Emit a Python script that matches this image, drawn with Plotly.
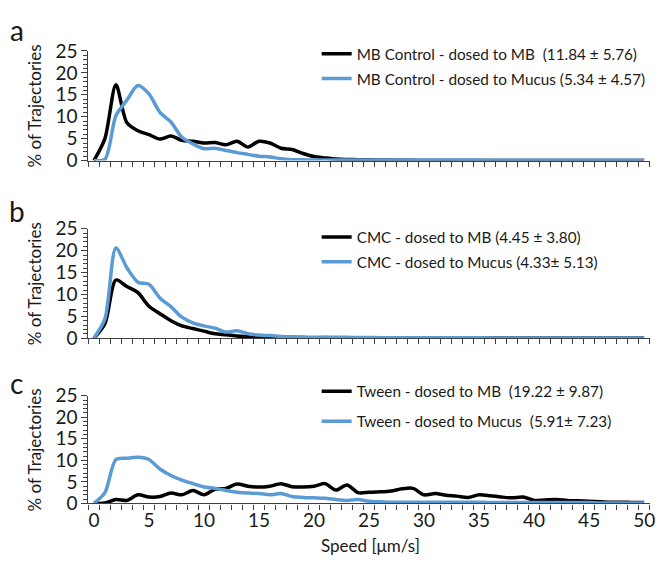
import plotly.graph_objects as go

speed = list(range(0, 51))

a_mb = [0, 5.0, 17.3, 8.6, 6.8, 5.9, 4.9, 5.6, 4.6, 4.4, 4.0, 4.1, 3.6, 4.4, 3.1, 4.4, 4.0, 2.8, 2.5, 1.6,
        0.9, 0.6, 0.35, 0.25, 0.2, 0.15, 0.1, 0.1, 0.05, 0.05, 0, 0, 0, 0, 0, 0, 0, 0, 0, 0,
        0, 0, 0, 0, 0, 0, 0, 0, 0, 0, 0]
a_mucus = [0, 0.3, 10.2, 13.8, 17.1, 15.2, 11.0, 8.8, 5.3, 3.8, 2.7, 2.8, 2.3, 1.8, 1.4, 1.0, 0.8, 0.4, 0.2, 0.15,
           0.1, 0.1, 0.1, 0.1, 0.1, 0.1, 0.1, 0.1, 0.1, 0.1, 0.1, 0.1, 0.1, 0.1, 0.1, 0.1, 0.05, 0.05, 0.05, 0.05,
           0.05, 0.05, 0.05, 0.05, 0.05, 0.05, 0.05, 0.05, 0.05, 0.05, 0.05]

b_mb = [0, 3.3, 13.3, 11.8, 10.4, 7.3, 5.6, 4.0, 2.8, 2.2, 1.6, 1.0, 0.8, 0.5, 0.35, 0.25, 0.25, 0.2, 0.2, 0.15,
        0.1, 0.1, 0.1, 0.1, 0.1, 0.1, 0.05, 0.05, 0.05, 0.05, 0.05, 0.05, 0.05, 0.05, 0.05, 0.05, 0.05, 0.05, 0.05, 0.05,
        0.05, 0.05, 0.05, 0.05, 0.05, 0.05, 0.05, 0.05, 0.05, 0.05, 0.05]
b_mucus = [0, 4.4, 20.6, 16.1, 12.8, 12.3, 9.2, 7.2, 4.8, 3.5, 2.8, 2.3, 1.4, 1.7, 1.0, 0.7, 0.6, 0.4, 0.3, 0.25,
           0.2, 0.25, 0.2, 0.2, 0.15, 0.15, 0.1, 0.1, 0.1, 0.1, 0.1, 0.1, 0.1, 0.1, 0.1, 0.1, 0.05, 0.05, 0.05, 0.05,
           0.05, 0.05, 0.05, 0.05, 0.05, 0.05, 0.05, 0.05, 0.05, 0.05, 0.05]

c_mb = [0, 0.1, 0.9, 0.7, 2.0, 1.5, 1.6, 2.4, 2.0, 3.0, 2.0, 3.3, 3.5, 4.5, 4.0, 3.8, 4.0, 4.6, 3.9, 3.8,
        4.0, 4.6, 3.1, 4.3, 2.5, 2.6, 2.7, 2.9, 3.4, 3.5, 2.0, 2.3, 1.9, 1.7, 1.4, 2.0, 1.8, 1.5, 1.3, 1.5,
        0.7, 0.8, 0.9, 0.7, 0.6, 0.5, 0.4, 0.3, 0.3, 0.2, 0.2]
c_mucus = [0, 2.5, 10.2, 10.5, 10.7, 10.2, 8.0, 6.5, 5.4, 4.6, 3.8, 3.5, 3.0, 2.6, 2.4, 2.3, 2.0, 2.3, 1.6, 1.4,
           1.3, 1.2, 0.9, 0.7, 0.9, 0.5, 0.4, 0.3, 0.3, 0.3, 0.3, 0.3, 0.3, 0.3, 0.3, 0.3, 0.2, 0.2, 0.2, 0.2,
           0.2, 0.2, 0.2, 0.2, 0.2, 0.2, 0.1, 0.1, 0.1, 0.1, 0.1]

names = [
    ["MB Control - dosed to MB\u00a0 (11.84 \u00b1 5.76)", "MB Control - dosed to Mucus (5.34 \u00b1 4.57)"],
    ["CMC - dosed to MB (4.45 \u00b1 3.80)", "CMC - dosed to Mucus (4.33\u00b1 5.13)"],
    ["Tween - dosed to MB\u00a0 (19.22 \u00b1 9.87)", "Tween - dosed to Mucus\u00a0 (5.91\u00b1 7.23)"],
]
series = [[a_mb, a_mucus], [b_mb, b_mucus], [c_mb, c_mucus]]
letters = ["a", "b", "c"]
x_ticks = list(range(0, 51, 5))
y_ticks = list(range(0, 26, 5))

W, H = 666, 564
FONT = "Lato"
TXT = "#1a1a1a"
BLACK = "#000000"
BLUE = "#5B9BD5"
AX = "#404040"

panels_px = [(32.3, 146.5), (217.7, 331.7), (391.7, 504.0)]
x_px = (81.0, 646.5)

fig = go.Figure()
legend_names = ["legend", "legend2", "legend3"]
legend_top_px = [18, 209, 370]
legend_gaps = [2, 2, 7]

layout = dict(
    width=W, height=H, autosize=False,
    margin=dict(l=0, r=0, t=0, b=0),
    paper_bgcolor="white", plot_bgcolor="white",
    font=dict(family=FONT, size=16, color=TXT),
    showlegend=True,
)

for i in range(3):
    xa = "xaxis" if i == 0 else f"xaxis{i+1}"
    ya = "yaxis" if i == 0 else f"yaxis{i+1}"
    xr = "x" if i == 0 else f"x{i+1}"
    yr = "y" if i == 0 else f"y{i+1}"
    cols = [BLACK, BLUE]
    for j in range(2):
        fig.add_trace(go.Scatter(
            x=speed, y=series[i][j], mode="lines", name=names[i][j],
            line=dict(color=cols[j], width=3.5, shape="spline", smoothing=0.8),
            xaxis=xr, yaxis=yr, legend=legend_names[i], legendgroup=f"g{i}{j}",
            showlegend=True, cliponaxis=True,
        ))
    layout[xa] = dict(
        domain=[x_px[0] / W, x_px[1] / W], anchor=yr,
        range=[-0.5, 50.5], tickvals=x_ticks, ticks="", ticklen=1,
        showticklabels=(i == 2), tickfont=dict(size=19, color=TXT),
        showline=True, linecolor=AX, linewidth=1.2,
        showgrid=False, zeroline=False,
        minor=dict(tickvals=[k - 0.5 for k in range(52)], ticks="outside",
                   ticklen=5, tickcolor=AX, tickwidth=1, showgrid=False),
    )
    layout[ya] = dict(
        domain=[1 - panels_px[i][1] / H, 1 - panels_px[i][0] / H], anchor=xr,
        range=[0, 25], tickvals=y_ticks, ticks="outside", ticklen=6,
        tickcolor=AX, tickwidth=1,
        tickfont=dict(size=19, color=TXT),
        showline=True, linecolor=AX, linewidth=1.2,
        showgrid=False, zeroline=False,
        minor=dict(dtick=1, ticks="outside", ticklen=4, tickcolor=AX,
                   tickwidth=1, showgrid=False),
    )
    layout[legend_names[i]] = dict(
        x=311 / W, y=1 - legend_top_px[i] / H, xanchor="left", yanchor="top",
        xref="paper", yref="paper",
        bgcolor="rgba(0,0,0,0)", borderwidth=0,
        font=dict(family=FONT, size=15.3, color=TXT),
        tracegroupgap=legend_gaps[i], itemwidth=30,
    )

annotations = []
for i in range(3):
    top, bot = panels_px[i]
    annotations.append(dict(
        text="% of Trajectories", x=27 / W, y=1 - ((top + bot) / 2) / H,
        xref="paper", yref="paper", showarrow=False, textangle=-90,
        xanchor="center", yanchor="middle", font=dict(family=FONT, size=17, color=TXT),
    ))
letter_pos = [(9, 10), (9, 199), (9, 378)]
for i, (lx, ly) in enumerate(letter_pos):
    annotations.append(dict(
        text=letters[i], x=lx / W, y=1 - ly / H, xref="paper", yref="paper",
        showarrow=False, xanchor="center", yanchor="middle",
        font=dict(family=FONT, size=28, color=TXT),
    ))
annotations.append(dict(
    text="Speed [\u03bcm/s]", x=365 / W, y=1 - 548 / H, xref="paper", yref="paper",
    showarrow=False, xanchor="center", yanchor="middle",
    font=dict(family=FONT, size=17, color=TXT),
))
layout["annotations"] = annotations

fig.update_layout(**layout)
fig.write_html("out.html")
